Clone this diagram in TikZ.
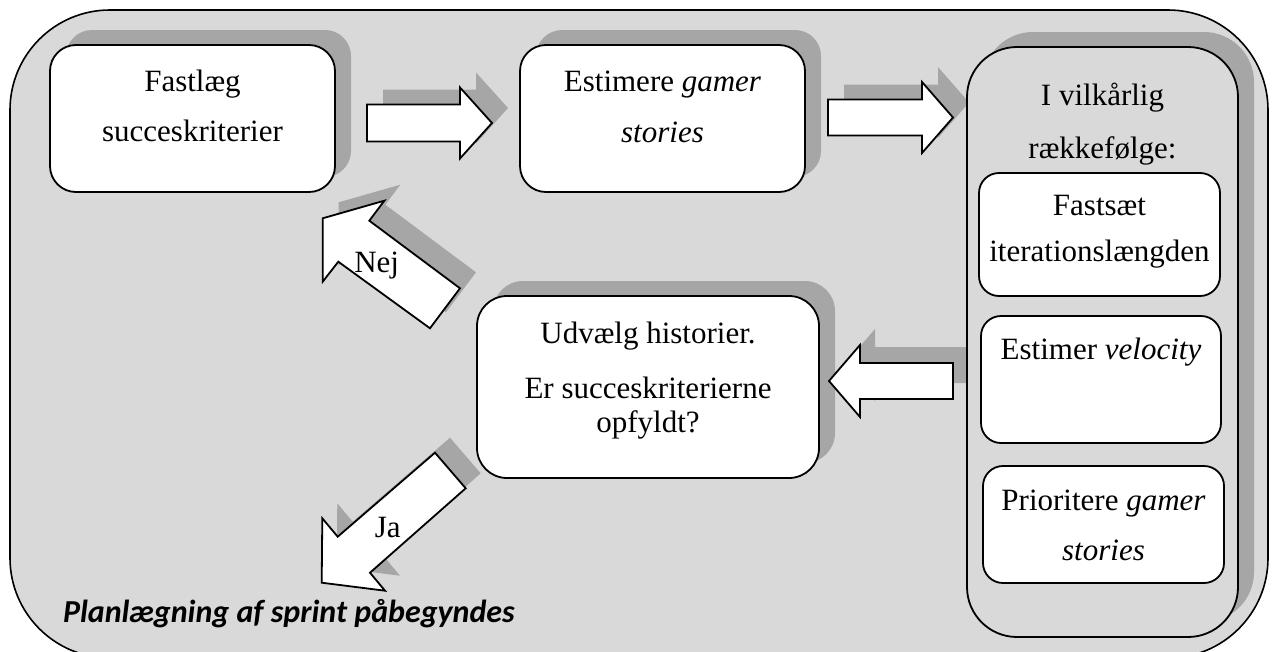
\documentclass[tikz,border=0pt]{standalone}
\usepackage{fontspec}
\setmainfont{Liberation Serif}
\newfontfamily\headfont{Carlito}
\definecolor{panelgray}{HTML}{D9D9D9}
\definecolor{shadowgray}{HTML}{A6A6A6}
\pgfdeclarelayer{panel}
\pgfdeclarelayer{shade}
\pgfsetlayers{panel,shade,main}
\begin{document}
\begin{tikzpicture}[x=1pt,y=-1pt,
  every node/.style={inner sep=0pt, outer sep=0pt},
  stepbox/.style={draw=black, line width=1.8pt, fill=white, rectangle},
  groupbox/.style={draw=black, line width=1.8pt, fill=panelgray, rectangle},
  shadowfill/.style={fill=shadowgray, draw=none},
  blockarrow/.style={draw=black, line width=1.8pt, fill=white, line join=miter},
  lbl/.style={font=\fontsize{31}{36}\selectfont, anchor=base},
  arrowone/.style={insert path={(367,104.5) -- (460,104.5) -- (460,87.5) -- (492,123) -- (460,158.5) -- (460,141.5) -- (367,141.5) -- cycle}},
  arrowtwo/.style={insert path={(828,99.5) -- (922,99.5) -- (922,82) -- (953,117.5) -- (922,153) -- (922,135.5) -- (828,135.5) -- cycle}},
  arrowback/.style={insert path={(953,363) -- (860,363) -- (860,345) -- (829,381) -- (860,417) -- (860,399) -- (953,399) -- cycle}},
  arrownej/.style={insert path={(322.7,218.3) -- (384.3,200.7) -- (369.3,220.7) -- (460,288.3) -- (430,328.3) -- (338.3,261.7) -- (322.7,281.7) -- cycle}},
  arrowja/.style={insert path={(321.7,582.7) -- (385,590.7) -- (370,572.7) -- (465.7,488.3) -- (435,452.7) -- (337.7,536.7) -- (322.3,518.3) -- cycle}},
]
\useasboundingbox (0,0) rectangle (1275,651);

% outer panel
\begin{pgfonlayer}{panel}
  \path[draw=black, line width=1.6pt, fill=panelgray, rounded corners=100] (10,10) rectangle (1268,658);
\end{pgfonlayer}

% process boxes
\node[stepbox, rounded corners=26, minimum width=285, minimum height=147] (b1) at (192.5,118.5) {};
\node[stepbox, rounded corners=26, minimum width=285, minimum height=147] (b2) at (662.5,118.5) {};
\node[stepbox, rounded corners=30, minimum width=342, minimum height=182] (b3) at (648,387) {};
\node[groupbox, rounded corners=50, minimum width=271, minimum height=590] (big) at (1102.5,342) {};
\node[stepbox, rounded corners=20, minimum width=241, minimum height=123] (i1) at (1099.5,234.5) {};
\node[stepbox, rounded corners=20, minimum width=240, minimum height=127] (i2) at (1101,379.5) {};
\node[stepbox, rounded corners=20, minimum width=241, minimum height=117] (i3) at (1103.5,524.5) {};

% drop shadows
\begin{pgfonlayer}{shade}
  \foreach \n/\r in {b1/26,b2/26,b3/30,big/50}
    \path[shadowfill, rounded corners=\r] ([shift={(16,-15)}]\n.south west) rectangle ([shift={(16,-15)}]\n.north east);
  \path[shadowfill, shift={(16,-15)}, arrowone];
  \path[shadowfill, shift={(16,-15)}, arrowtwo];
  \path[shadowfill, shift={(15,-16)}, arrowback];
  \path[shadowfill, shift={(16,-16)}, arrownej];
  \path[shadowfill, shift={(15,-15)}, arrowja];
\end{pgfonlayer}

% block arrows
\path[blockarrow, arrowone];
\path[blockarrow, arrowtwo];
\path[blockarrow, arrowback];
\path[blockarrow, arrownej];
\path[blockarrow, arrowja];

% texts
\node[lbl] (t1a) at (192.5,91.7) {Fastlæg};
\node[lbl] (t1b) at (192.5,141.7) {succeskriterier};
\node[lbl] (t2a) at (662.5,91) {Estimere \textit{gamer}};
\node[lbl] (t2b) at (662.5,142) {\textit{stories}};
\node[lbl] (t3a) at (648,343) {Udvælg historier.};
\node[lbl] (t3b) at (648,398) {Er succeskriterierne};
\node[lbl] (t3c) at (648,432) {opfyldt?};
\node[lbl] (tga) at (1102.5,105) {I vilkårlig};
\node[lbl] (tgb) at (1102.5,158) {rækkefølge:};
\node[lbl] (ti1a) at (1099.5,215) {Fastsæt};
\node[lbl] (ti1b) at (1099.5,261) {iterationslængden};
\node[lbl] (ti2) at (1101,359) {Estimer \textit{velocity}};
\node[lbl] (ti3a) at (1103.5,510) {Prioritere \textit{gamer}};
\node[lbl] (ti3b) at (1103.5,560) {\textit{stories}};
\node[lbl] (nej) at (376.7,272) {Nej};
\node[lbl] (ja) at (387.7,537) {Ja};
\node[anchor=base west, font=\headfont\bfseries\itshape\fontsize{32}{36}\selectfont] (title) at (63,622) {Planlægning af sprint påbegyndes};
\end{tikzpicture}
\end{document}
